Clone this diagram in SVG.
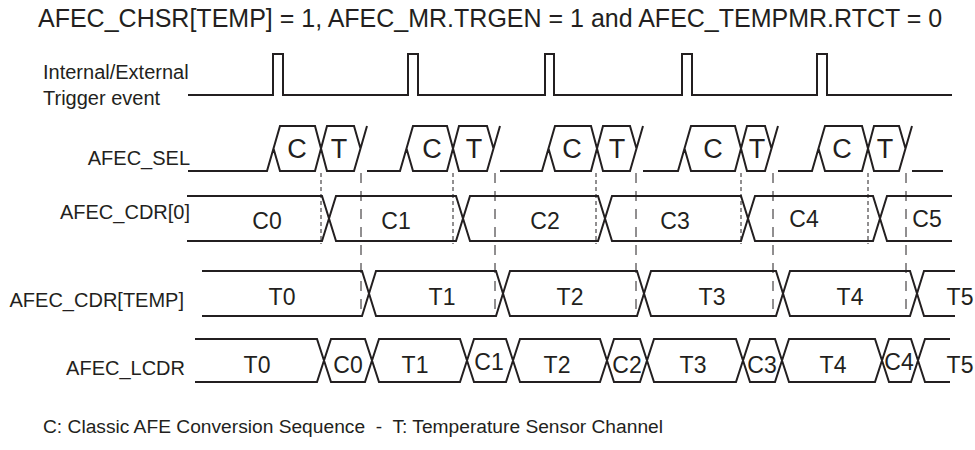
<svg xmlns="http://www.w3.org/2000/svg" width="975" height="450" viewBox="0 0 975 450">
<style>
text{font-family:"Liberation Sans",Arial,sans-serif;fill:#231f20}
.t{font-size:25px}
.lb{font-size:20px}
.ft{font-size:19.2px;white-space:pre}
.v{font-size:23px;text-anchor:middle}
.s{font-size:27px;text-anchor:middle}
.w{fill:none;stroke:#231f20;stroke-width:2;stroke-linejoin:miter}
.ds{fill:none;stroke:#231f20;stroke-width:1;stroke-dasharray:4 3}
.dl{fill:none;stroke:#231f20;stroke-width:1;stroke-dasharray:10 8}
</style>
<rect width="975" height="450" fill="#fff"/>
<text class="t" x="38" y="27">AFEC_CHSR[TEMP] = 1, AFEC_MR.TRGEN = 1 and AFEC_TEMPMR.RTCT = 0</text>

<g id="labels">
<text class="lb" x="43" y="79">Internal/External</text>
<text class="lb" x="43" y="105">Trigger event</text>
<text class="lb" x="190" y="165" text-anchor="end">AFEC_SEL</text>
<text class="lb" x="190" y="219" text-anchor="end">AFEC_CDR[0]</text>
<text class="lb" x="184" y="307" text-anchor="end">AFEC_CDR[TEMP]</text>
<text class="lb" x="185" y="375" text-anchor="end">AFEC_LCDR</text>
</g>

<g id="trigger">
<path class="w" d="M188,95 H273 V54 H283 V95 H408 V54 H418 V95 H545 V54 H554 V95 H682 V54 H692 V95 H817 V54 H827 V95 H952"/>
</g>

<g id="afec_sel">
<path class="w" d="M188,171 H267 L280,126 H315 L327,171 H354 L367,126 M267,171 M273.5,148.5 L280,171 H315 L327,126 H354 L360.5,148.5 M367,171 H400 L413,126 H447 L459,171 H487 L500,126 M406.5,148.5 L413,171 H447 L459,126 H487 L493.5,148.5 M500,171 H542 L555,126 H591 L603,171 H630 L643,126 M548.5,148.5 L555,171 H591 L603,126 H630 L636.5,148.5 M643,171 H678 L691,126 H735 L747,171 H765 L778,126 M684.5,148.5 L691,171 H735 L747,126 H765 L771.5,148.5 M778,171 H812 L825,126 H862 L874,171 H899 L912,126 M818.5,148.5 L825,171 H862 L874,126 H899 L905.5,148.5 M912,171 H943"/>
<text class="s" x="297" y="158">C</text>
<text class="s" x="339" y="158">T</text>
<text class="s" x="432" y="158">C</text>
<text class="s" x="474" y="158">T</text>
<text class="s" x="572" y="158">C</text>
<text class="s" x="617" y="158">T</text>
<text class="s" x="713" y="158">C</text>
<text class="s" x="757" y="158">T</text>
<text class="s" x="842" y="158">C</text>
<text class="s" x="885" y="158">T</text>
</g>

<g id="afec_cdr0">
<path class="w" d="M187,196 H322 L336,241 H456 L470,196 H598 L612,241 H741 L755,196 H873 L887,241 H952 M187,241 H322 L336,196 H456 L470,241 H598 L612,196 H741 L755,241 H873 L887,196 H952"/>
<text class="v" x="267" y="229">C0</text>
<text class="v" x="396" y="229">C1</text>
<text class="v" x="545" y="229">C2</text>
<text class="v" x="675" y="229">C3</text>
<text class="v" x="804" y="227">C4</text>
<text class="v" x="927" y="227">C5</text>
</g>

<g id="afec_cdr_temp">
<path class="w" d="M202,271 H362 L376,316 H496 L510,271 H637 L651,316 H776 L790,271 H910 L924,316 H955 M202,316 H362 L376,271 H496 L510,316 H637 L651,271 H776 L790,316 H910 L924,271 H955"/>
<text class="v" x="282" y="305">T0</text>
<text class="v" x="442" y="305">T1</text>
<text class="v" x="570" y="305">T2</text>
<text class="v" x="712" y="305">T3</text>
<text class="v" x="850" y="305">T4</text>
<text class="v" x="960" y="305">T5</text>
</g>

<g id="afec_lcdr">
<path class="w" d="M195,339 H317 L331,382 H365 L379,339 H460 L474,382 H506 L520,339 H600 L614,382 H640 L654,339 H736 L750,382 H775 L789,339 H875 L889,382 H911 L925,339 H950 M195,382 H317 L331,339 H365 L379,382 H460 L474,339 H506 L520,382 H600 L614,339 H640 L654,382 H736 L750,339 H775 L789,382 H875 L889,339 H911 L925,382 H950"/>
<text class="v" x="257" y="373">T0</text>
<text class="v" x="348" y="373">C0</text>
<text class="v" x="415" y="373">T1</text>
<text class="v" x="489" y="370">C1</text>
<text class="v" x="557" y="373">T2</text>
<text class="v" x="627" y="373">C2</text>
<text class="v" x="693" y="373">T3</text>
<text class="v" x="762" y="373">C3</text>
<text class="v" x="833" y="373">T4</text>
<text class="v" x="899" y="370">C4</text>
<text class="v" x="960" y="373">T5</text>
</g>

<g id="connectors">
<path class="ds" d="M321,173 V244 M453,173 V244 M596,173 V244 M741,173 V244 M868,173 V244"/>
<path class="dl" d="M361,173 V316 M495,173 V316 M636,173 V316 M773,173 V316 M906,173 V316"/>
</g>

<text class="ft" x="43" y="433">C: Classic AFE Conversion Sequence  -  T: Temperature Sensor Channel</text>
</svg>
